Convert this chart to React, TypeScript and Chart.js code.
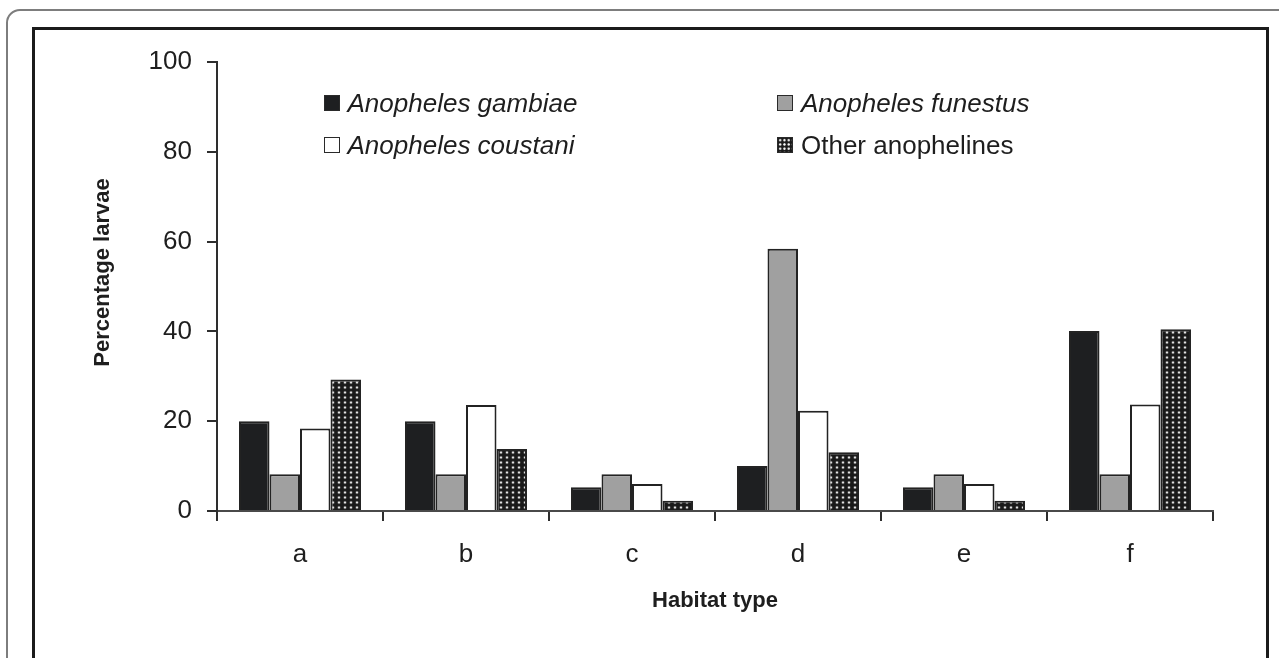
import React, { useEffect, useRef } from "react";
import { Chart, registerables } from "chart.js";

Chart.register(...registerables);

// ---- data ----
const categories = ["a", "b", "c", "d", "e", "f"];
const seriesLabels = [
  "Anopheles gambiae",
  "Anopheles funestus",
  "Anopheles coustani",
  "Other anophelines",
];
const gambiae = [20, 20, 5.3, 10, 5.3, 40.1];
const funestus = [8.2, 8.2, 8.2, 58.4, 8.2, 8.2];
const coustani = [18.4, 23.6, 6, 22.3, 6, 23.7];
const otherAnophelines = [29.3, 13.8, 2.3, 13.1, 2.3, 40.5];
const yTickValues = [0, 20, 40, 60, 80, 100];
const xTitle = "Habitat type";
const yTitle = "Percentage larvae";

// ---- styles ----
const FONT = "'Liberation Sans', Arial, Helvetica, sans-serif";
const TEXT = "#1e1e1e";
const seriesFills = ["#1e1f21", "#a0a0a0", "#ffffff", "pattern"];
const seriesItalic = [true, true, true, false];

function makeDotPattern(ctx: CanvasRenderingContext2D): CanvasPattern | string {
  const c = document.createElement("canvas");
  c.width = 6;
  c.height = 5;
  const p = c.getContext("2d");
  if (!p) return "#333";
  p.fillStyle = "#1a1a1a";
  p.fillRect(0, 0, 6, 5);
  p.fillStyle = "rgba(255,255,255,0.25)";
  p.beginPath();
  p.arc(3, 2.5, 1.7, 0, Math.PI * 2);
  p.fill();
  p.fillStyle = "#ffffff";
  p.beginPath();
  p.arc(3, 2.5, 0.9, 0, Math.PI * 2);
  p.fill();
  return ctx.createPattern(c, "repeat") || "#333";
}

const yTitlePlugin = {
  id: "yTitleCustom",
  afterDraw(chart: any) {
    const ctx = chart.ctx as CanvasRenderingContext2D;
    ctx.save();
    ctx.translate(102.5, 272.5);
    ctx.rotate(-Math.PI / 2);
    ctx.font = `bold 22px ${FONT}`;
    ctx.fillStyle = TEXT;
    ctx.textAlign = "center";
    ctx.textBaseline = "middle";
    ctx.fillText(yTitle, 0, 0);
    ctx.restore();
  },
};

function Legend() {
  const colX = [323.5, 777];
  const rowBaseline = [111.5, 153.5];
  return (
    <>
      {seriesLabels.map((label, i) => {
        const col = i % 2;
        const row = Math.floor(i / 2);
        const boxLeft = colX[col];
        const baseline = rowBaseline[row];
        const fill = seriesFills[i];
        const swatchStyle: React.CSSProperties = {
          position: "absolute",
          left: boxLeft,
          top: baseline - 16.5,
          width: 16,
          height: 16,
          boxSizing: "border-box",
          border: "1.5px solid #2a2a2a",
          background: fill === "pattern" ? "#1a1a1a" : fill,
        };
        if (fill === "pattern") {
          swatchStyle.backgroundImage =
            "radial-gradient(circle, #ffffff 0.8px, rgba(255,255,255,0.25) 1.3px, transparent 1.8px)";
          swatchStyle.backgroundSize = "4.3px 4.3px";
          swatchStyle.backgroundPosition = "0px 0px";
        }
        return (
          <React.Fragment key={label}>
            <div style={swatchStyle} />
            <div
              style={{
                position: "absolute",
                left: boxLeft + 24,
                top: baseline - 22,
                font: `${seriesItalic[i] ? "italic " : ""}26px ${FONT}`,
                lineHeight: "26px",
                color: TEXT,
                whiteSpace: "nowrap",
              }}
            >
              {label}
            </div>
          </React.Fragment>
        );
      })}
    </>
  );
}

export default function App() {
  const canvasRef = useRef<HTMLCanvasElement | null>(null);

  useEffect(() => {
    const canvas = canvasRef.current;
    if (!canvas) return;
    const ctx = canvas.getContext("2d");
    if (!ctx) return;
    const pattern = makeDotPattern(ctx);
    const series = [gambiae, funestus, coustani, otherAnophelines];

    const chart = new Chart(ctx, {
      type: "bar",
      data: {
        labels: categories,
        datasets: series.map((vals, i) => ({
          label: seriesLabels[i],
          data: vals,
          backgroundColor: seriesFills[i] === "pattern" ? (pattern as any) : seriesFills[i],
          borderColor: "#232323",
          borderWidth: 2,
          categoryPercentage: 0.735,
          barPercentage: 1,
        })),
      },
      options: {
        responsive: false,
        animation: false,
        events: [],
        layout: { padding: { top: 62, right: 66, left: 0, bottom: 0 } },
        plugins: {
          legend: { display: false },
          tooltip: { enabled: false },
          title: { display: false },
        },
        scales: {
          x: {
            type: "category",
            offset: true,
            grid: {
              offset: true,
              drawOnChartArea: false,
              drawTicks: true,
              tickLength: 10,
              color: "#2e2e2e",
              lineWidth: 2,
            },
            border: { display: true, color: "#4a4a4a", width: 2 },
            ticks: {
              color: TEXT,
              font: { family: FONT, size: 26 },
              padding: 18,
              maxRotation: 0,
            },
            title: {
              display: true,
              text: xTitle,
              color: TEXT,
              font: { family: FONT, size: 22, weight: "bold" },
              padding: { top: 0, bottom: 44 },
            },
            afterFit: (scale: any) => {
              scale.height = 147;
            },
          },
          y: {
            min: 0,
            max: 100,
            afterBuildTicks: (scale: any) => {
              scale.ticks = yTickValues.map((v) => ({ value: v }));
            },
            grid: {
              drawOnChartArea: false,
              drawTicks: true,
              tickLength: 10,
              color: "#2e2e2e",
              lineWidth: 2,
            },
            border: { display: true, color: "#2e2e2e", width: 2 },
            ticks: {
              color: TEXT,
              font: { family: FONT, size: 26 },
              padding: 15,
            },
            title: { display: false },
            afterFit: (scale: any) => {
              scale.width = 217;
            },
          },
        },
      },
      plugins: [yTitlePlugin],
    });

    return () => chart.destroy();
  }, []);

  return (
    <div
      style={{
        position: "fixed",
        left: 0,
        top: 0,
        width: 1279,
        height: 658,
        overflow: "hidden",
        background: "#ffffff",
      }}
    >
      <div
        style={{
          position: "absolute",
          left: 6,
          top: 9,
          width: 1400,
          height: 800,
          border: "2px solid #7d7d7d",
          borderTopLeftRadius: 14,
        }}
      />
      <div
        style={{
          position: "absolute",
          left: 32,
          top: 27,
          width: 1231,
          height: 800,
          border: "3px solid #1b1b1b",
          borderBottom: "none",
        }}
      />
      <canvas
        ref={canvasRef}
        width={1279}
        height={658}
        style={{ position: "absolute", left: 0, top: 0, width: 1279, height: 658 }}
      />
      <Legend />
    </div>
  );
}
